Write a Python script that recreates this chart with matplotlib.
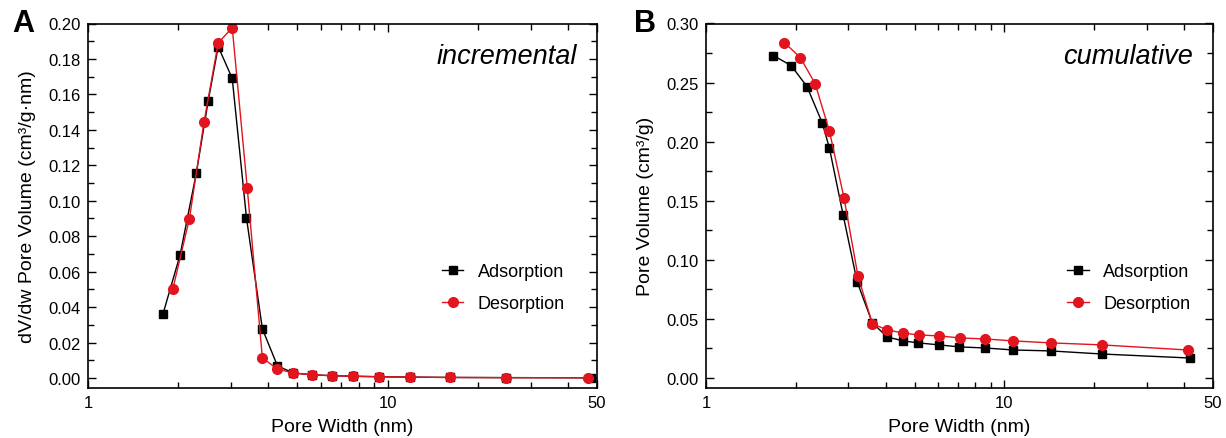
import matplotlib
matplotlib.use("Agg")
import matplotlib.pyplot as plt
from matplotlib.ticker import FixedLocator, NullFormatter, MultipleLocator

plt.rcParams['font.family'] = ['Liberation Sans', 'DejaVu Sans']

RED = '#e2141e'

# incremental (panel A)
inc_ads_w = [1.78, 2.03, 2.30, 2.52, 2.72, 3.03, 3.38, 3.82, 4.29, 4.85, 5.61, 6.50, 7.64, 9.33, 11.85, 16.2, 24.8, 47.8]
inc_ads_v = [0.0362, 0.0695, 0.1158, 0.1565, 0.187, 0.169, 0.0904, 0.0277, 0.0068, 0.0028, 0.0018, 0.0013, 0.0010, 0.0007, 0.0005, 0.0003, 0.0002, 0.0001]
inc_des_w = [1.92, 2.18, 2.44, 2.72, 3.03, 3.40, 3.82, 4.29, 4.85, 5.61, 6.50, 7.64, 9.33, 11.85, 16.2, 24.8, 46.7]
inc_des_v = [0.0503, 0.0898, 0.1446, 0.189, 0.1977, 0.1073, 0.0113, 0.0050, 0.0028, 0.0018, 0.0013, 0.0010, 0.0007, 0.0005, 0.0003, 0.0002, 0.0001]

# cumulative (panel B)
cum_ads_w = [1.68, 1.93, 2.18, 2.45, 2.59, 2.88, 3.21, 3.61, 4.05, 4.58, 5.14, 6.05, 7.06, 8.63, 10.7, 14.3, 21.2, 41.8]
cum_ads_v = [0.2729, 0.2644, 0.2466, 0.2161, 0.1949, 0.1381, 0.0814, 0.0466, 0.0347, 0.0314, 0.0297, 0.0280, 0.0263, 0.0254, 0.0237, 0.0229, 0.0203, 0.0169]
cum_des_w = [1.83, 2.07, 2.32, 2.59, 2.90, 3.23, 3.61, 4.05, 4.58, 5.18, 6.05, 7.10, 8.63, 10.7, 14.3, 21.2, 41.1]
cum_des_v = [0.2839, 0.2712, 0.2492, 0.2093, 0.1525, 0.0864, 0.0458, 0.0407, 0.0380, 0.0364, 0.0356, 0.0339, 0.0330, 0.0314, 0.0297, 0.0280, 0.0237]

x_ticks = [1, 10, 50]
x_minor = [2, 3, 4, 5, 6, 7, 8, 9, 20, 30, 40]

fig = plt.figure(figsize=(12.26, 4.39), dpi=100)
ax1 = fig.add_axes([88/1226, 1 - 389/439, (597 - 88)/1226, (389 - 24.5)/439])
ax2 = fig.add_axes([706/1226, 1 - 389/439, (1213 - 706)/1226, (389 - 24.5)/439])


def style(ax, ymax, major, minor, ylabel, tag, leg_x):
    ax.set_xscale('log')
    ax.set_xlim(1, 50)
    ax.set_ylim(-ymax * 10 / 354, ymax)
    ax.xaxis.set_major_locator(FixedLocator(x_ticks))
    ax.set_xticklabels([str(t) for t in x_ticks])
    ax.xaxis.set_minor_locator(FixedLocator(x_minor))
    ax.xaxis.set_minor_formatter(NullFormatter())
    ax.yaxis.set_major_locator(MultipleLocator(major))
    ax.yaxis.set_minor_locator(MultipleLocator(minor))
    ax.yaxis.set_major_formatter(plt.FormatStrFormatter('%.2f'))
    ax.tick_params(which='both', direction='in', top=True, right=True, width=1.0, labelsize=12)
    ax.tick_params(which='major', length=6, pad=5)
    ax.tick_params(which='minor', length=4.5)
    for s in ax.spines.values():
        s.set_linewidth(1.2)
    ax.set_xlabel('Pore Width (nm)', fontsize=14, labelpad=6)
    ax.set_ylabel(ylabel, fontsize=14, labelpad=9)
    ax.text(0.961, 0.91, tag, transform=ax.transAxes, ha='right', va='center',
            fontsize=19.5, style='italic')
    ax.legend(loc='upper left', bbox_to_anchor=(leg_x, 0.342), frameon=False, fontsize=13,
              borderpad=0, borderaxespad=0, handlelength=1.2, handletextpad=0.8, labelspacing=0.82)


ax1.plot(inc_ads_w, inc_ads_v, '-', color='black', marker='s', markersize=6, lw=1, label='Adsorption')
ax1.plot(inc_des_w, inc_des_v, '-', color=RED, marker='o', markersize=7, lw=1, label='Desorption')
style(ax1, 0.20, 0.02, 0.01, 'dV/dw Pore Volume (cm³/g·nm)', 'incremental', 0.695)

ax2.plot(cum_ads_w, cum_ads_v, '-', color='black', marker='s', markersize=6, lw=1, label='Adsorption')
ax2.plot(cum_des_w, cum_des_v, '-', color=RED, marker='o', markersize=7, lw=1, label='Desorption')
style(ax2, 0.30, 0.05, 0.025, 'Pore Volume (cm³/g)', 'cumulative', 0.712)

fig.text(12 / 1226, 1 - 24 / 439, 'A', fontsize=22, fontweight='bold', va='center', ha='left')
fig.text(634 / 1226, 1 - 24 / 439, 'B', fontsize=22, fontweight='bold', va='center', ha='left')

fig.savefig('out.png', dpi=100)
